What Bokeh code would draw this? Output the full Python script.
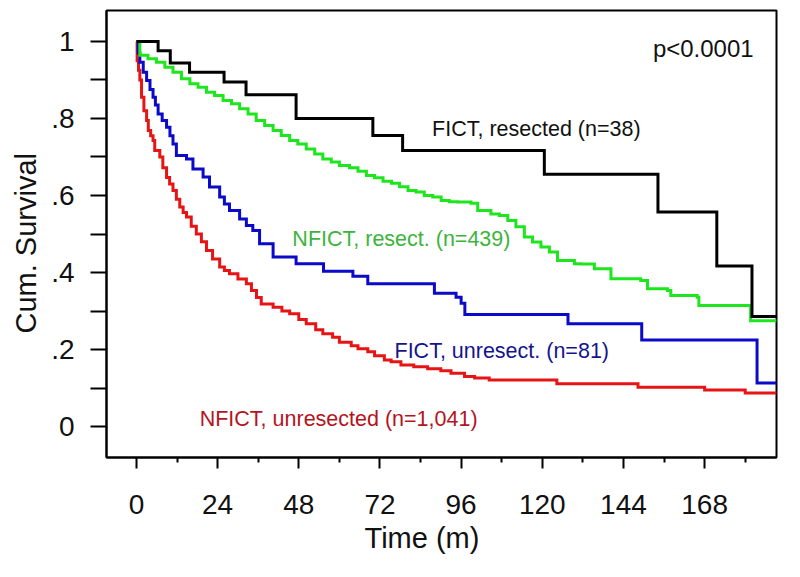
from bokeh.plotting import figure
from bokeh.models import Range1d, FixedTicker, CustomJSTickFormatter, Label, Title
from bokeh.embed import file_html
from bokeh.resources import INLINE

FONT = "Liberation Sans"

# ---- axis ticks ----
x_major_ticks = [0, 24, 48, 72, 96, 120, 144, 168]
x_minor_ticks = [12, 36, 60, 84, 108, 132, 156, 180]
y_major_ticks = [0, 0.2, 0.4, 0.6, 0.8, 1.0]
y_major_labels = ["0", ".2", ".4", ".6", ".8", "1"]
y_minor_ticks = [0.1, 0.3, 0.5, 0.7, 0.9]
x_title = "Time (m)"
y_title = "Cum. Survival"

# ---- survival curves (time in months, cumulative survival) ----
fict_res_t = [0, 6.4, 10.0, 15.7, 25.9, 32.4, 47.2, 69.9, 78.7, 120.6, 154.2, 171.6, 182.0, 189.3]
fict_res_s = [1.0, 0.976, 0.944, 0.920, 0.895, 0.862, 0.800, 0.756, 0.717, 0.655, 0.557, 0.417, 0.286, 0.286]

nfict_res_t = [0, 1.0, 3.4, 5.9, 8.4, 10.8, 13.3, 15.8, 18.2, 20.7, 23.1, 25.6, 28.1, 30.5, 33.0,
               35.4, 37.9, 40.4, 42.8, 45.3, 47.7, 50.2, 52.7, 55.1, 57.6, 60.0, 63.0, 65.5, 68.0,
               70.4, 72.9, 75.4, 77.8, 80.3, 82.7, 85.1, 87.6, 90.1, 92.5, 95.0, 98.9, 100.9, 104.8,
               107.3, 109.8, 112.2, 114.7, 117.1, 119.6, 122.1, 124.5, 129.5, 131.4, 135.4, 140.3,
               149.1, 151.1, 157.0, 158.0, 165.8, 166.3, 181.6, 189.3]
nfict_res_s = [1.0, 0.964, 0.955, 0.946, 0.933, 0.920, 0.903, 0.890, 0.881, 0.868, 0.860, 0.847, 0.838, 0.825, 0.812,
               0.795, 0.782, 0.769, 0.756, 0.743, 0.734, 0.721, 0.708, 0.695, 0.687, 0.678, 0.672, 0.663, 0.652,
               0.646, 0.637, 0.632, 0.623, 0.613, 0.609, 0.600, 0.596, 0.587, 0.584, 0.583, 0.580, 0.561, 0.552,
               0.548, 0.535, 0.519, 0.492, 0.479, 0.466, 0.453, 0.431, 0.423, 0.422, 0.410, 0.384,
               0.379, 0.358, 0.353, 0.340, 0.336, 0.314, 0.275, 0.275]

fict_unres_t = [0, 0.5, 1.0, 2.0, 3.0, 4.0, 4.9, 5.6, 6.4, 7.6, 8.9, 9.9, 10.8, 11.8, 14.8, 16.7, 19.7,
                21.6, 24.6, 26.0, 27.5, 30.5, 32.5, 34.4, 36.4, 40.4, 47.2, 55.3, 64.0, 68.4, 88.1, 94.5,
                96.0, 97.1, 127.6, 149.4, 183.5, 189.3]
fict_unres_s = [1.0, 0.970, 0.946, 0.920, 0.899, 0.875, 0.855, 0.835, 0.812, 0.795, 0.777, 0.755, 0.734, 0.704, 0.695, 0.669, 0.648,
                0.622, 0.596, 0.578, 0.561, 0.539, 0.522, 0.509, 0.475, 0.440, 0.423, 0.403, 0.390, 0.371, 0.346, 0.336,
                0.320, 0.291, 0.267, 0.225, 0.113, 0.113]

nfict_unres_t = [0, 0.2, 0.6, 1.0, 1.5, 2.2, 3.0, 3.5, 4.2, 4.9, 5.4, 6.9, 7.8, 8.9, 9.8, 10.8, 11.8, 12.8,
                 13.8, 14.8, 16.2, 17.7, 19.2, 20.7, 22.5, 24.6, 26.0, 27.5, 30.0, 32.5, 34.0, 35.5, 36.9,
                 40.4, 43.0, 45.3, 48.0, 50.2, 53.0, 55.1, 58.0, 60.0, 63.5, 65.5, 68.4, 70.4, 73.3, 75.3,
                 78.2, 82.0, 86.1, 90.0, 93.0, 97.0, 100.0, 104.3, 124.3, 148.3, 168.0, 180.0, 189.3]
nfict_unres_s = [1.0, 0.950, 0.925, 0.900, 0.855, 0.820, 0.795, 0.769, 0.755, 0.743, 0.717, 0.700, 0.672, 0.647, 0.630, 0.613, 0.590, 0.570,
                 0.556, 0.544, 0.520, 0.500, 0.480, 0.457, 0.435, 0.414, 0.405, 0.397, 0.383, 0.371, 0.353, 0.335, 0.318,
                 0.310, 0.300, 0.293, 0.278, 0.267, 0.251, 0.241, 0.232, 0.219, 0.210, 0.202, 0.194, 0.184, 0.173, 0.168,
                 0.160, 0.155, 0.150, 0.145, 0.138, 0.130, 0.126, 0.121, 0.111, 0.102, 0.095, 0.087, 0.087]

series_names = ["FICT, resected (n=38)", "NFICT, resect. (n=439)",
                "FICT, unresect. (n=81)", "NFICT, unresected (n=1,041)"]
p_value_text = "p<0.0001"

p = figure(width=790, height=567, output_backend="svg", toolbar_location=None,
           x_range=Range1d(-8.86, 189.25), y_range=Range1d(-0.0805, 1.0805),
           min_border_left=105, min_border_top=10, min_border_right=14, min_border_bottom=110)
p.background_fill_color = "white"
p.border_fill_color = "white"
p.grid.visible = False
p.outline_line_color = "black"
p.outline_line_width = 2

# x axis
xa = p.xaxis[0]
xa.ticker = FixedTicker(ticks=x_major_ticks, minor_ticks=x_minor_ticks)
xa.axis_line_width = 2
xa.major_tick_in = 0
xa.major_tick_out = 11
xa.minor_tick_in = 0
xa.minor_tick_out = 5
xa.major_tick_line_width = 2
xa.minor_tick_line_width = 2
xa.major_label_text_font = FONT
xa.major_label_text_font_size = "28px"
xa.major_label_text_color = "#111111"
xa.major_label_standoff = 26

# y axis
ya = p.yaxis[0]
ya.ticker = FixedTicker(ticks=y_major_ticks, minor_ticks=y_minor_ticks)
ya.formatter = CustomJSTickFormatter(args=dict(vals=y_major_ticks, labs=y_major_labels), code="""
for (let i = 0; i < vals.length; i++) { if (Math.abs(vals[i] - tick) < 1e-6) return labs[i]; }
return '';
""")
ya.axis_line_width = 2
ya.major_tick_in = 0
ya.major_tick_out = 16
ya.minor_tick_in = 0
ya.minor_tick_out = 16
ya.major_tick_line_width = 2
ya.minor_tick_line_width = 2
ya.major_label_text_font = FONT
ya.major_label_text_font_size = "28px"
ya.major_label_text_color = "#111111"
ya.major_label_standoff = 16

# axis titles (placed like the original, slightly off-centre)
p.add_layout(Title(text=x_title, text_font=FONT, text_font_size="29px", text_font_style="normal",
                   text_color="#111111", align="left", offset=258, standoff=7), "below")
p.add_layout(Title(text=y_title, text_font=FONT, text_font_size="29px", text_font_style="normal",
                   text_color="#111111", align="left", offset=124, standoff=14), "left")

line_colors = ["#000000", "#1ee61e", "#0a0ac8", "#e61414"]
text_colors = ["#111111", "#3cb43c", "#14148c", "#b4141e"]
curves = [(fict_res_t, fict_res_s), (nfict_res_t, nfict_res_s),
          (fict_unres_t, fict_unres_s), (nfict_unres_t, nfict_unres_s)]
draw_order = [3, 2, 1, 0]
for i in draw_order:
    t, s = curves[i]
    assert len(t) == len(s)
    p.step(t, s, mode="after", line_color=line_colors[i], line_width=3, line_join="miter")

label_pos = [(87.4, 0.774), (46.1, 0.4875), (76.3, 0.197), (18.7, 0.020)]
for i, (lx, ly) in enumerate(label_pos):
    p.add_layout(Label(x=lx, y=ly, text=series_names[i], text_font=FONT, text_font_size="21.5px",
                       text_color=text_colors[i], text_align="left", text_baseline="alphabetic"))

p.add_layout(Label(x=152.7, y=0.981, text=p_value_text, text_font=FONT, text_font_size="24px",
                   text_color="#111111", text_align="left", text_baseline="alphabetic"))

open("out.html", "w").write(file_html(p, INLINE))
